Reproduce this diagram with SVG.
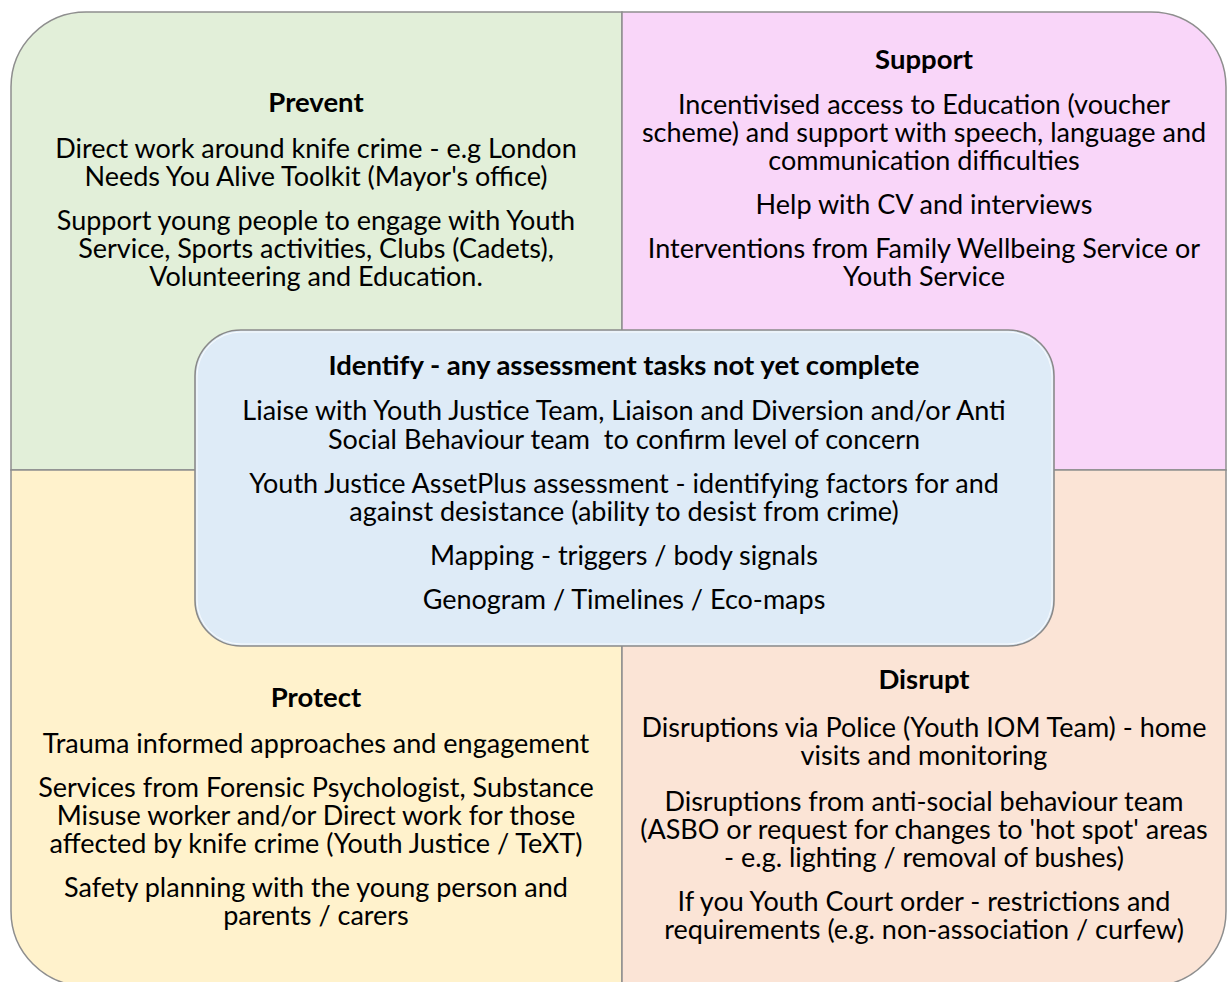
<svg xmlns="http://www.w3.org/2000/svg" width="1228" height="982" viewBox="0 0 1228 982">
  <style>
    .quad { stroke: #8e8e8e; stroke-width: 1.5; }
    .centre { fill: #deebf7; stroke: #8a8a8a; stroke-width: 1.6; }
    .centre-hi { fill: none; stroke: #ffffff; stroke-width: 1; opacity: 0.8; }
    text { font-family: Lato, "Liberation Sans", sans-serif; font-size: 27px; fill: #000; text-anchor: middle; white-space: pre; }
    .title { font-weight: 700; font-size: 27.5px; }
  </style>
  <rect width="1228" height="982" fill="#ffffff"/>

  <!-- Prevent: top-left quarter -->
  <g id="prevent">
    <path class="quad" fill="#e2efd9" d="M11,470 V87 A75,75 0 0 1 86,12 H622 V470 Z"/>
    <text class="title" x="316" y="112">Prevent</text>
    <text x="316" y="158">Direct work around knife crime - e.g London</text>
    <text x="316" y="186">Needs You Alive Toolkit (Mayor's office)</text>
    <text x="316" y="230">Support young people to engage with Youth</text>
    <text x="316" y="258">Service, Sports activities, Clubs (Cadets),</text>
    <text x="316" y="286">Volunteering and Education.</text>
  </g>

  <!-- Support: top-right quarter -->
  <g id="support">
    <path class="quad" fill="#f9d6f9" d="M622,12 H1151 A75,75 0 0 1 1226,87 V470 H622 Z"/>
    <text class="title" x="924" y="69">Support</text>
    <text x="924" y="114">Incentivised access to Education (voucher</text>
    <text x="924" y="142">scheme) and support with speech, language and</text>
    <text x="924" y="170">communication difficulties</text>
    <text x="924" y="214">Help with CV and interviews</text>
    <text x="924" y="258">Interventions from Family Wellbeing Service or</text>
    <text x="924" y="286">Youth Service</text>
  </g>

  <!-- Protect: bottom-left quarter -->
  <g id="protect">
    <path class="quad" fill="#fff2cc" d="M11,470 H622 V986 H86 A75,75 0 0 1 11,911 Z"/>
    <text class="title" x="316" y="707">Protect</text>
    <text x="316" y="753">Trauma informed approaches and engagement</text>
    <text x="316" y="797">Services from Forensic Psychologist, Substance</text>
    <text x="316" y="825">Misuse worker and/or Direct work for those</text>
    <text x="316" y="853">affected by knife crime (Youth Justice / TeXT)</text>
    <text x="316" y="897">Safety planning with the young person and</text>
    <text x="316" y="925">parents / carers</text>
  </g>

  <!-- Disrupt: bottom-right quarter -->
  <g id="disrupt">
    <path class="quad" fill="#fbe4d6" d="M622,470 H1226 V911 A75,75 0 0 1 1151,986 H622 Z"/>
    <text class="title" x="924" y="689">Disrupt</text>
    <text x="924" y="737">Disruptions via Police (Youth IOM Team) - home</text>
    <text x="924" y="765">visits and monitoring</text>
    <text x="924" y="811">Disruptions from anti-social behaviour team</text>
    <text x="924" y="839">(ASBO or request for changes to 'hot spot' areas</text>
    <text x="924" y="867">- e.g. lighting / removal of bushes)</text>
    <text x="924" y="911">If you Youth Court order - restrictions and</text>
    <text x="924" y="939">requirements (e.g. non-association / curfew)</text>
  </g>

  <!-- Identify: central rounded panel over the four quarters -->
  <g id="identify">
    <rect class="centre" x="195" y="330" width="859" height="316" rx="46" ry="46"/>
    <rect class="centre-hi" x="197" y="332" width="855" height="312" rx="44" ry="44"/>
    <text class="title" x="624" y="375">Identify - any assessment tasks not yet complete</text>
    <text x="624" y="420">Liaise with Youth Justice Team, Liaison and Diversion and/or Anti</text>
    <text x="624" y="449">Social Behaviour team  to confirm level of concern</text>
    <text x="624" y="493">Youth Justice AssetPlus assessment - identifying factors for and</text>
    <text x="624" y="521">against desistance (ability to desist from crime)</text>
    <text x="624" y="565">Mapping - triggers / body signals</text>
    <text x="624" y="609">Genogram / Timelines / Eco-maps</text>
  </g>

  <!-- no connectors in this chart -->
  <g id="connectors"/>
</svg>
